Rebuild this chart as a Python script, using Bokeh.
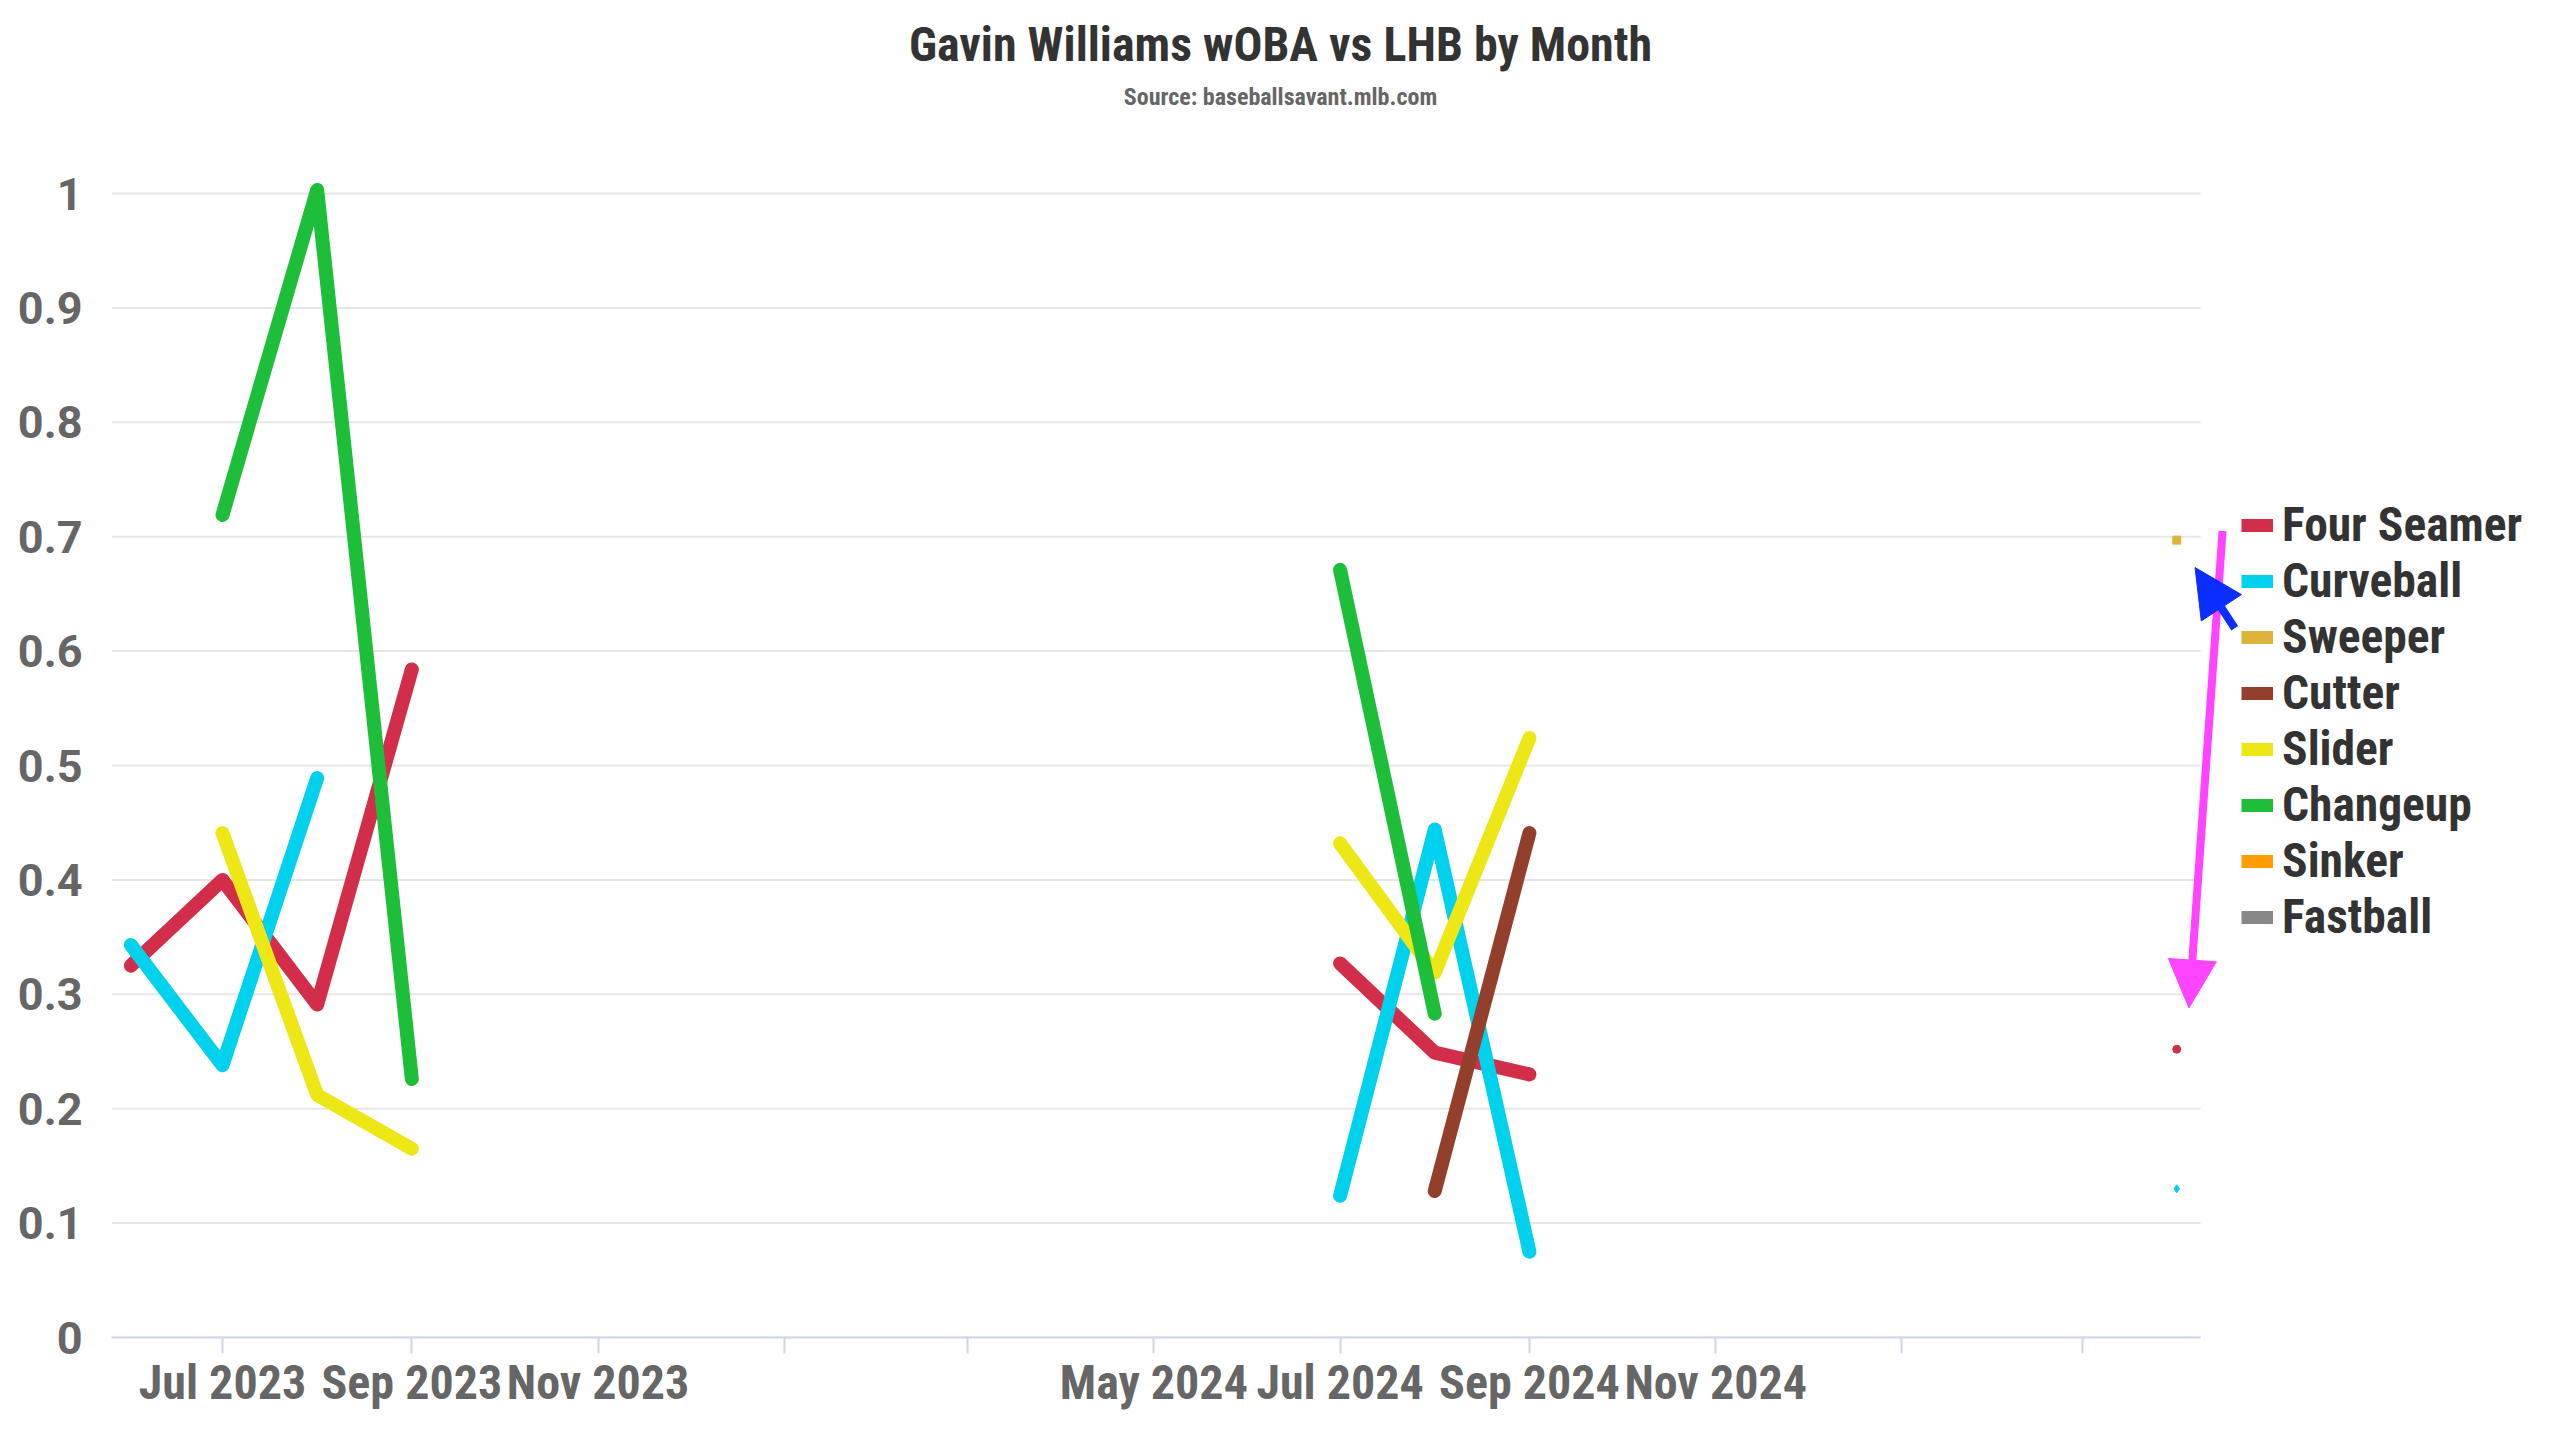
import math
import pandas as pd
from bokeh.plotting import figure
from bokeh.models import (Range1d, FixedTicker, Legend, LegendItem, Label,
                          Arrow, NormalHead)
from bokeh.embed import file_html
from bokeh.resources import INLINE

# ---------------- data ----------------
TITLE = "Gavin Williams wOBA vs LHB by Month"
SUBTITLE = "Source: baseballsavant.mlb.com"

months = ["2023-06", "2023-07", "2023-08", "2023-09",
          "2024-07", "2024-08", "2024-09", "2025-04"]

pitch_names = ["Four Seamer", "Curveball", "Sweeper", "Cutter",
               "Slider", "Changeup", "Sinker", "Fastball"]
pitch_colors = ["#D22D49", "#00D1ED", "#DDB33A", "#933F2C",
                "#EEE716", "#1DBE3A", "#FE9D00", "#888888"]
pitch_markers = ["circle", "diamond", "square", "triangle",
                 "inverted_triangle", "circle", "diamond", "square"]

four_seamer = [0.325, 0.400, 0.291, 0.584, 0.327, 0.249, 0.230, 0.252]
curveball   = [0.343, 0.238, 0.489, None, 0.124, 0.444, 0.075, 0.130]
sweeper     = [None, None, None, None, None, None, None, 0.697]
cutter      = [None, None, None, None, None, 0.128, 0.441, None]
slider      = [None, 0.441, 0.212, 0.165, 0.432, 0.319, 0.524, None]
changeup    = [None, 0.719, 1.003, 0.226, 0.671, 0.283, None, None]
sinker      = [None, None, None, None, None, None, None, None]
fastball    = [None, None, None, None, None, None, None, None]

series_values = [four_seamer, curveball, sweeper, cutter,
                 slider, changeup, sinker, fastball]

tick_months = ["2023-07", "2023-09", "2023-11", "2024-01", "2024-03", "2024-05",
               "2024-07", "2024-09", "2024-11", "2025-01", "2025-03"]
tick_labels = ["Jul 2023", "Sep 2023", "Nov 2023", "", "", "May 2024",
               "Jul 2024", "Sep 2024", "Nov 2024", "", ""]

y_ticks = [0, 0.1, 0.2, 0.3, 0.4, 0.5, 0.6, 0.7, 0.8, 0.9, 1.0]
y_tick_labels = ["0", "0.1", "0.2", "0.3", "0.4", "0.5", "0.6", "0.7", "0.8", "0.9", "1"]

# annotation arrows ((date, value) start, (date, value) end)
magenta_arrow = (("2025-04-16", 0.705), ("2025-04-05", 0.288))
blue_arrow = (("2025-04-20", 0.620), ("2025-04-07", 0.673))

# ---------------- layout constants (pixels) ----------------
W, H = 2544, 1420
FRAME_LEFT = 111          # left edge of plotting area
PLOT_RIGHT = 2200         # right end of axis line / grid lines
Y0_PX, Y1_PX = 1337, 193  # pixel rows of value 0 and value 1
X_FIRST_TICK_PX, X_LAST_TICK_PX = 222.0, 2081.6


def ms(d):
    return pd.Timestamp(d if len(d) > 7 else d + "-01").value // 10**6


def month_index(m):
    y, mo = m.split("-")
    return int(y) * 12 + int(mo)


t0, t1 = ms(tick_months[0]), ms(tick_months[-1])
px_per_ms = (X_LAST_TICK_PX - X_FIRST_TICK_PX) / (t1 - t0)
x_start = t0 - (X_FIRST_TICK_PX - FRAME_LEFT) / px_per_ms
x_end = t0 + (W - X_FIRST_TICK_PX) / px_per_ms
x_grid_end = t0 + (PLOT_RIGHT - X_FIRST_TICK_PX) / px_per_ms
y_end = Y0_PX / (Y0_PX - Y1_PX)

COND = "Roboto Condensed, Liberation Sans Narrow, sans-serif"
ROBOTO = "Roboto"

p = figure(width=W, height=H, output_backend="svg", toolbar_location=None,
           x_axis_type="datetime", title=None,
           x_range=Range1d(x_start, x_end),
           y_range=Range1d(0, y_end),
           min_border_left=FRAME_LEFT, min_border_right=0,
           min_border_top=0, min_border_bottom=H - Y0_PX)
p.outline_line_color = None
p.background_fill_color = "white"
p.border_fill_color = "white"
p.xgrid.grid_line_color = None
p.ygrid.grid_line_color = None

# horizontal grid lines (limited to the plot width)
p.segment(x0=[x_start] * len(y_ticks), x1=[x_grid_end] * len(y_ticks),
          y0=y_ticks, y1=y_ticks, line_color="#e6e6e6", line_width=2)

# series lines and isolated points
mx = [ms(m) for m in months]
mi = [month_index(m) for m in months]
for name, color, marker, vals in zip(pitch_names, pitch_colors, pitch_markers, series_values):
    xs, ys = [], []
    iso_x, iso_y = [], []
    n = len(vals)
    for i in range(n):
        v = vals[i]
        if v is None:
            continue
        prev_ok = i > 0 and vals[i - 1] is not None and mi[i] - mi[i - 1] == 1
        next_ok = i < n - 1 and vals[i + 1] is not None and mi[i + 1] - mi[i] == 1
        if not prev_ok and xs:
            xs.append(float("nan")); ys.append(float("nan"))
        xs.append(mx[i]); ys.append(v)
        if not prev_ok and not next_ok:
            iso_x.append(mx[i]); iso_y.append(v)
    if len(xs) > 1:
        p.line(xs, ys, line_color=color, line_width=14, line_cap="round", line_join="round")
    if iso_x:
        p.scatter(iso_x, iso_y, marker=marker, size=8, fill_color=color, line_color=color)

# legend proxies (one NaN point each, nothing visible in the plot)
items = []
for name, color in zip(pitch_names, pitch_colors):
    r = p.line(x=mx[:1], y=[float("nan")], line_color=color, line_width=13, line_cap="butt")
    items.append(LegendItem(label=name, renderers=[r]))

legend = Legend(items=items, location=(2241 - FRAME_LEFT, Y0_PX - 945),
                orientation="vertical",
                border_line_color=None, background_fill_alpha=0,
                label_text_font=COND, label_text_font_size="47.5px",
                label_text_font_style="bold", label_text_color="#333333",
                glyph_width=32, glyph_height=46, label_height=46, spacing=0,
                padding=10, margin=0, label_standoff=9)
p.add_layout(legend, "center")

# axes
p.xaxis.ticker = FixedTicker(ticks=[ms(m) for m in tick_months])
p.xaxis.major_label_overrides = {ms(m): lab for m, lab in zip(tick_months, tick_labels)}
p.xaxis.bounds = (x_start, x_grid_end)
p.xaxis.axis_line_color = "#ccd6eb"
p.xaxis.axis_line_width = 2
p.xaxis.major_tick_line_color = "#ccd6eb"
p.xaxis.major_tick_line_width = 2
p.xaxis.major_tick_out = 16
p.xaxis.major_tick_in = 0
p.xaxis.minor_tick_out = 0
p.xaxis.minor_tick_in = 0
p.xaxis.major_label_text_font = COND
p.xaxis.major_label_text_font_size = "48px"
p.xaxis.major_label_text_font_style = "bold"
p.xaxis.major_label_text_color = "#666666"
p.xaxis.major_label_standoff = 0

p.yaxis.ticker = FixedTicker(ticks=y_ticks)
p.yaxis.major_label_overrides = {t: lab for t, lab in zip(y_ticks, y_tick_labels)}
p.yaxis.axis_line_color = None
p.yaxis.major_tick_out = 0
p.yaxis.major_tick_in = 0
p.yaxis.minor_tick_out = 0
p.yaxis.minor_tick_in = 0
p.yaxis.major_label_text_font = ROBOTO
p.yaxis.major_label_text_font_size = "45px"
p.yaxis.major_label_text_font_style = "bold"
p.yaxis.major_label_text_color = "#666666"
p.yaxis.major_label_standoff = 29

# titles (screen units relative to the plotting area, y measured from its bottom)
p.add_layout(Label(x=1280 - FRAME_LEFT, y=Y0_PX - 44, x_units="screen", y_units="screen",
                   text=TITLE, text_align="center", text_baseline="middle",
                   text_font=COND, text_font_size="48px", text_font_style="bold",
                   text_color="#333333"))
p.add_layout(Label(x=1280 - FRAME_LEFT, y=Y0_PX - 96, x_units="screen", y_units="screen",
                   text=SUBTITLE, text_align="center", text_baseline="middle",
                   text_font=COND, text_font_size="24px", text_font_style="bold",
                   text_color="#666666"))

# arrows
(ms_s, ms_e) = magenta_arrow
p.add_layout(Arrow(end=NormalHead(size=48, fill_color="#FF44FF", line_color="#FF44FF"),
                   x_start=ms(ms_s[0]), y_start=ms_s[1], x_end=ms(ms_e[0]), y_end=ms_e[1],
                   line_color="#FF44FF", line_width=8))
(bs_s, bs_e) = blue_arrow
p.add_layout(Arrow(end=NormalHead(size=48, fill_color="#0A2EFF", line_color="#0A2EFF"),
                   x_start=ms(bs_s[0]), y_start=bs_s[1], x_end=ms(bs_e[0]), y_end=bs_e[1],
                   line_color="#0A2EFF", line_width=8))

open("out.html", "w").write(file_html(p, INLINE))
